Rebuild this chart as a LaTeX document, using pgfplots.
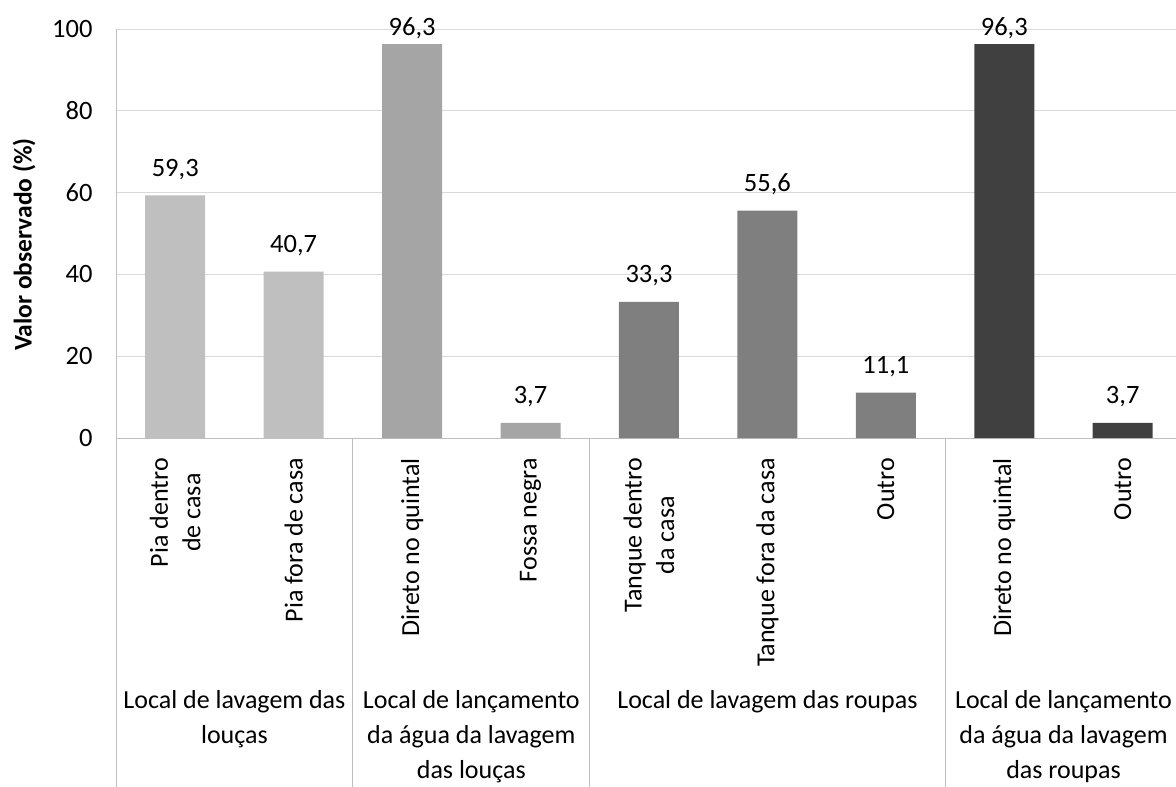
\documentclass[border=0pt]{standalone}
\usepackage{fontspec}
\setmainfont{Carlito}
\usepackage{pgfplots}
\pgfplotsset{compat=1.18}

\definecolor{louca}{HTML}{BFBFBF}
\definecolor{lancl}{HTML}{A5A5A5}
\definecolor{roupa}{HTML}{7F7F7F}
\definecolor{lancr}{HTML}{404040}
\definecolor{gridc}{HTML}{D9D9D9}
\definecolor{axisc}{HTML}{BFBFBF}

\newcommand{\lbl}{\fontsize{26bp}{32.5bp}\selectfont}
\newcommand{\grp}{\fontsize{26bp}{35bp}\selectfont}
\newcommand{\num}{\fontsize{26.5bp}{30bp}\selectfont}

\begin{document}
\begin{tikzpicture}
\useasboundingbox (0,0) rectangle (1176bp,-787bp);
\begin{axis}[
    at={(116bp,-438bp)}, anchor=south west,
    scale only axis, width=1066bp, height=409bp,
    xmin=-0.5, xmax=8.5, ymin=0, ymax=100,
    axis lines=left,
    axis line style={draw=axisc, line width=0.9bp, -},
    ymajorgrids, grid style={draw=gridc, line width=0.9bp},
    major tick length=0pt,
    ytick={0,20,...,100},
    xtick={0,...,8},
    xticklabels={{Pia dentro\\de casa}, {Pia fora de casa}, {Direto no quintal}, {Fossa negra},
        {Tanque dentro\\da casa}, {Tanque fora da casa}, {Outro}, {Direto no quintal}, {Outro}},
    xticklabel style={rotate=90, anchor=east, align=center, inner sep=0pt, font=\lbl},
    xticklabel shift=20bp,
    yticklabel style={font=\num, xshift=-20bp},
    /pgf/number format/assume math mode=true,
    ybar, bar width=60bp, bar shift=0pt,
    clip=false,
    visualization depends on={rawy \as \yy},
    nodes near coords={\pgfmathprintnumber[use comma, fixed, fixed zerofill, precision=1]{\pgfplotspointmeta}},
    every node near coord/.append style={font=\num, anchor=base, inner sep=0pt,
        yshift={(\yy>90)*(-10bp)+19bp}},
]
% Local de lavagem das louças
\addplot[fill=louca, draw=none] coordinates {(0,59.3) (1,40.7)};
% Local de lançamento da água da lavagem das louças
\addplot[fill=lancl, draw=none] coordinates {(2,96.3) (3,3.7)};
% Local de lavagem das roupas
\addplot[fill=roupa, draw=none] coordinates {(4,33.3) (5,55.6) (6,11.1)};
% Local de lançamento da água da lavagem das roupas
\addplot[fill=lancr, draw=none] coordinates {(7,96.3) (8,3.7)};

% group separators of the two-level category axis
\pgfplotsinvokeforeach{-0.5,1.5,3.5,6.5}{
    \draw[axisc, line width=0.9bp] (axis cs:#1,0) -- ([yshift=-349bp]axis cs:#1,0);
}

\node[anchor=north, inner sep=0pt, align=center, font=\grp] at ([yshift=-252bp]axis cs:0.5,0)
    {Local de lavagem das\\louças};
\node[anchor=north, inner sep=0pt, align=center, font=\grp] at ([yshift=-252bp]axis cs:2.5,0)
    {Local de lançamento\\da água da lavagem\\das louças};
\node[anchor=north, inner sep=0pt, align=center, font=\grp] at ([yshift=-252bp]axis cs:5,0)
    {Local de lavagem das roupas};
\node[anchor=north, inner sep=0pt, align=center, font=\grp] at ([yshift=-252bp]axis cs:7.5,0)
    {Local de lançamento\\da água da lavagem\\das roupas};

\node[rotate=90, font=\fontsize{25.5bp}{28bp}\selectfont\bfseries] at ([xshift=-92bp, yshift=-11bp]rel axis cs:0,0.5)
    {Valor observado (\%)};
\end{axis}
\end{tikzpicture}
\end{document}
